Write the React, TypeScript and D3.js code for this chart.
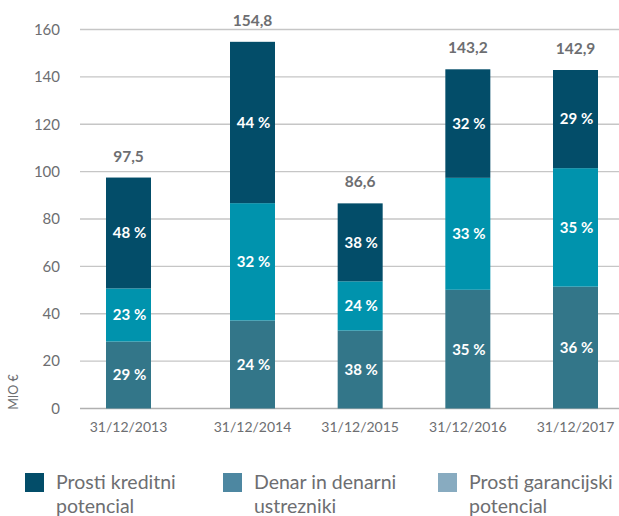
import React from "react";
import * as d3 from "d3";

const categories = ["31/12/2013", "31/12/2014", "31/12/2015", "31/12/2016", "31/12/2017"];
const totals = [97.5, 154.8, 86.6, 143.2, 142.9];
const totalLabels = ["97,5", "154,8", "86,6", "143,2", "142,9"];
// percentage shares, bottom to top
const pctDenar = [29, 24, 38, 35, 36];
const pctGarancijski = [23, 32, 24, 33, 35];
const pctKreditni = [48, 44, 38, 32, 29];
const yTicks = [0, 20, 40, 60, 80, 100, 120, 140, 160];
const legendLabels = [
  ["Prosti kreditni", "potencial"],
  ["Denar in denarni", "ustrezniki"],
  ["Prosti garancijski", "potencial"],
];

const W = 619;
const H = 516;
const FONT = "Lato, 'DejaVu Sans', sans-serif";
const barColors = ["#337689", "#0093ad", "#034d69"];
const legendColors = ["#034d69", "#4d87a1", "#88abc0"];

export default function App() {
  const y = d3.scaleLinear().domain([0, 160]).range([408.5, 29.5]);
  const x = d3.scaleLinear().domain([0, 1, 4]).range([128.5, 252.5, 575.5]);
  const bw = 45;

  const rows = categories.map((c, i) => ({
    cat: c,
    total: totals[i],
    s0: (totals[i] * pctDenar[i]) / 100,
    s1: (totals[i] * pctGarancijski[i]) / 100,
    s2: (totals[i] * pctKreditni[i]) / 100,
  }));
  const stack = d3.stack<any>().keys(["s0", "s1", "s2"])(rows);
  const pcts = [pctDenar, pctGarancijski, pctKreditni];

  return (
    <svg width={W} height={H} style={{ position: "absolute", left: 0, top: 0 }} fontFamily={FONT}>
      <rect width={W} height={H} fill="#fff" />
      {yTicks.map((t) => (
        <g key={t}>
          <line x1={80} x2={619} y1={y(t)} y2={y(t)} stroke={t === 0 ? "#b0b0b0" : "#c6c6c6"} strokeWidth={1.4} />
          <text x={60} y={y(t)} dy="0.35em" textAnchor="end" fontSize={15} fill="#6d6e71">
            {t}
          </text>
        </g>
      ))}
      <text
        transform={`translate(18,392) rotate(-90)`}
        textAnchor="middle"
        fontSize={12.5}
        fill="#6d6e71"
      >
        MIO €
      </text>
      {stack.map((layer, k) =>
        layer.map((d, i) => {
          const y0 = y(d[0]);
          const y1 = y(d[1]);
          return (
            <g key={`${k}-${i}`}>
              <rect x={x(i) - bw / 2} y={y1} width={bw} height={y0 - y1} fill={barColors[k]} />
              <text
                x={x(i) + 1}
                y={(y0 + y1) / 2}
                dy="0.36em"
                textAnchor="middle"
                fontSize={15}
                fontWeight={700}
                fill="#fff"
              >
                {pcts[k][i]} %
              </text>
            </g>
          );
        })
      )}
      {rows.map((r, i) => (
        <text
          key={r.cat}
          x={x(i)}
          y={y(r.total) - 16}
          textAnchor="middle"
          fontSize={15.5}
          fontWeight={700}
          fill="#6d6e71"
        >
          {totalLabels[i]}
        </text>
      ))}
      {categories.map((c, i) => (
        <text key={c} x={x(i)} y={432} textAnchor="middle" fontSize={14} fill="#6d6e71">
          {c}
        </text>
      ))}
      {legendLabels.map((lab, i) => {
        const lx = [25, 223, 438][i];
        return (
          <g key={i}>
            <rect x={lx} y={473} width={19} height={19} fill={legendColors[i]} />
            <text x={lx + 31} y={489} fontSize={19.5} fill="#6d6e71">
              <tspan x={lx + 31}>{lab[0]}</tspan>
              <tspan x={lx + 31} dy={24}>
                {lab[1]}
              </tspan>
            </text>
          </g>
        );
      })}
    </svg>
  );
}
